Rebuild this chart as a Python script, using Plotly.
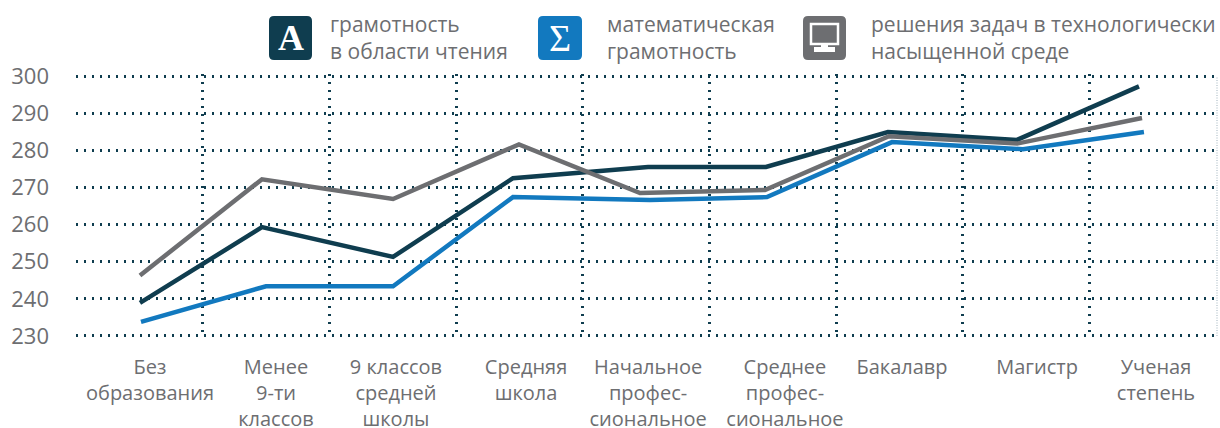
import re
import plotly.graph_objects as go

categories = ["Без<br>образования", "Менее<br>9-ти<br>классов", "9 классов<br>средней<br>школы",
              "Средняя<br>школа", "Начальное<br>профес-<br>сиональное", "Среднее<br>профес-<br>сиональное",
              "Бакалавр", "Магистр", "Ученая<br>степень"]
# label and vertex positions, in category-band units (the reference is hand-placed, not band-centred)
label_pos = [0.584, 1.579, 2.526, 3.553, 4.516, 5.597, 6.521, 7.587, 8.526]
band_edges = [1, 2, 3, 4, 5, 6, 7, 8]

reading_x = [0.505, 1.468, 2.503, 3.45, 4.516, 5.447, 6.41, 7.429, 8.392]
reading = [238.9, 259.3, 251.3, 272.5, 275.5, 275.5, 284.9, 282.8, 297.2]
math_x = [0.513, 1.5, 2.503, 3.45, 4.531, 5.455, 6.442, 7.476, 8.431]
math = [233.8, 243.4, 243.4, 267.4, 266.6, 267.4, 282.2, 280.3, 284.9]
tech_x = [0.505, 1.468, 2.503, 3.497, 4.453, 5.439, 6.418, 7.429, 8.416]
tech = [246.3, 272.2, 266.9, 281.6, 268.5, 269.3, 283.8, 281.8, 288.7]
y_ticks = [230, 240, 250, 260, 270, 280, 290, 300]

DARK, BLUE, GREY = "#0f3d4f", "#1279bf", "#6d6e71"
TEXT = "#6d6e71"
FONT = "Open Sans"
GRID_DASH = "2px,6px"

fig = go.Figure()
for xs, vals, col, name in [(reading_x, reading, DARK, "reading"), (math_x, math, BLUE, "math"), (tech_x, tech, GREY, "tech")]:
    fig.add_trace(go.Scatter(x=xs, y=vals, mode="lines", name=name,
                             line=dict(color=col, width=4.5), showlegend=False))

W, H = 1220, 428
# the plot area is 2px taller than the 230-300 span so that the end gridlines are kept
L, R, T, B = 76, 1216, 74, 338
shapes = []
annos = []

def fx(x):
    return (x - L) / (R - L)

def fy(y):
    return (B - y) / (B - T)

def px(p):
    out = []
    for t in re.findall(r"[MLQZ]|[-\d.]+,[-\d.]+", p):
        if "," in t:
            a, b = map(float, t.split(","))
            out.append(f"{fx(a):.5f},{fy(b):.5f}")
        else:
            out.append(t)
    return " ".join(out)

def rrect(x0, y0, x1, y1, r, col):
    p = (f"M{x0+r},{y0} L{x1-r},{y0} Q{x1},{y0} {x1},{y0+r} L{x1},{y1-r} Q{x1},{y1} {x1-r},{y1} "
         f"L{x0+r},{y1} Q{x0},{y1} {x0},{y1-r} L{x0},{y0+r} Q{x0},{y0} {x0+r},{y0} Z")
    return dict(type="path", xref="paper", yref="paper", path=px(p), fillcolor=col, line=dict(width=0), layer="above")

def box(x0, y0, x1, y1, fill, line=None):
    return dict(type="rect", xref="paper", yref="paper", x0=fx(x0), x1=fx(x1), y0=fy(y1), y1=fy(y0),
                fillcolor=fill, line=line or dict(width=0), layer="above")

def pa(x, y, text, size, col, anchor="left", family=FONT):
    annos.append(dict(xref="paper", yref="paper", x=fx(x), y=fy(y), text=text, showarrow=False,
                      xanchor=anchor, yanchor="middle", align="left",
                      font=dict(family=family, size=size, color=col)))

shapes.append(rrect(269, 16, 312, 60, 5, DARK))
shapes.append(rrect(538, 16, 582, 60, 5, BLUE))
shapes.append(rrect(803, 16, 846, 60, 5, GREY))
shapes.append(box(811, 24, 838, 44, GREY, dict(color="white", width=2.5)))
shapes.append(box(821, 44, 828, 47, "white"))
shapes.append(box(814, 47, 835, 52, "white"))
shapes.append(dict(type="line", xref="paper", yref="paper", x0=fx(1217), x1=fx(1217), y0=fy(336), y1=fy(76),
                   line=dict(color="#9fb2bd", width=1, dash="1px,1.5px"), layer="below"))
pa(290.5, 38, "<b>A</b>", 36, "white", "center", "Liberation Serif")
pa(560, 38, "Σ", 38, "white", "center", "Liberation Serif")
pa(328, 38, "грамотность<br>в области чтения", 21, TEXT)
pa(605, 38, "математическая<br>грамотность", 21, TEXT)
pa(869, 37, "решения задач в технологически<br>насыщенной среде", 21, TEXT)

fig.update_layout(
    width=W, height=H, autosize=False,
    margin=dict(l=L, r=W-R, t=T, b=H-B, autoexpand=False),
    paper_bgcolor="white", plot_bgcolor="white",
    font=dict(family=FONT, color=TEXT),
    shapes=shapes, annotations=annos,
    xaxis=dict(range=[0, 9], tickvals=label_pos, ticktext=categories, ticks="", showline=False, zeroline=False,
               showgrid=False, automargin=False, tickangle=0, ticklabelstandoff=15,
               minor=dict(tickvals=band_edges, showgrid=True, gridcolor=DARK, griddash=GRID_DASH, gridwidth=2.5, ticks=""),
               tickfont=dict(size=20, color=TEXT), fixedrange=True),
    yaxis=dict(range=[229.46, 300.54], tickvals=y_ticks, showgrid=True, gridcolor=DARK, griddash=GRID_DASH, gridwidth=2.5,
               zeroline=False, showline=False, ticks="", automargin=False, ticklabelstandoff=26,
               tickfont=dict(size=22, color=TEXT), fixedrange=True),
)
fig.write_html("out.html", config=dict(displayModeBar=False),
               post_script="document.body.style.margin='0';")
